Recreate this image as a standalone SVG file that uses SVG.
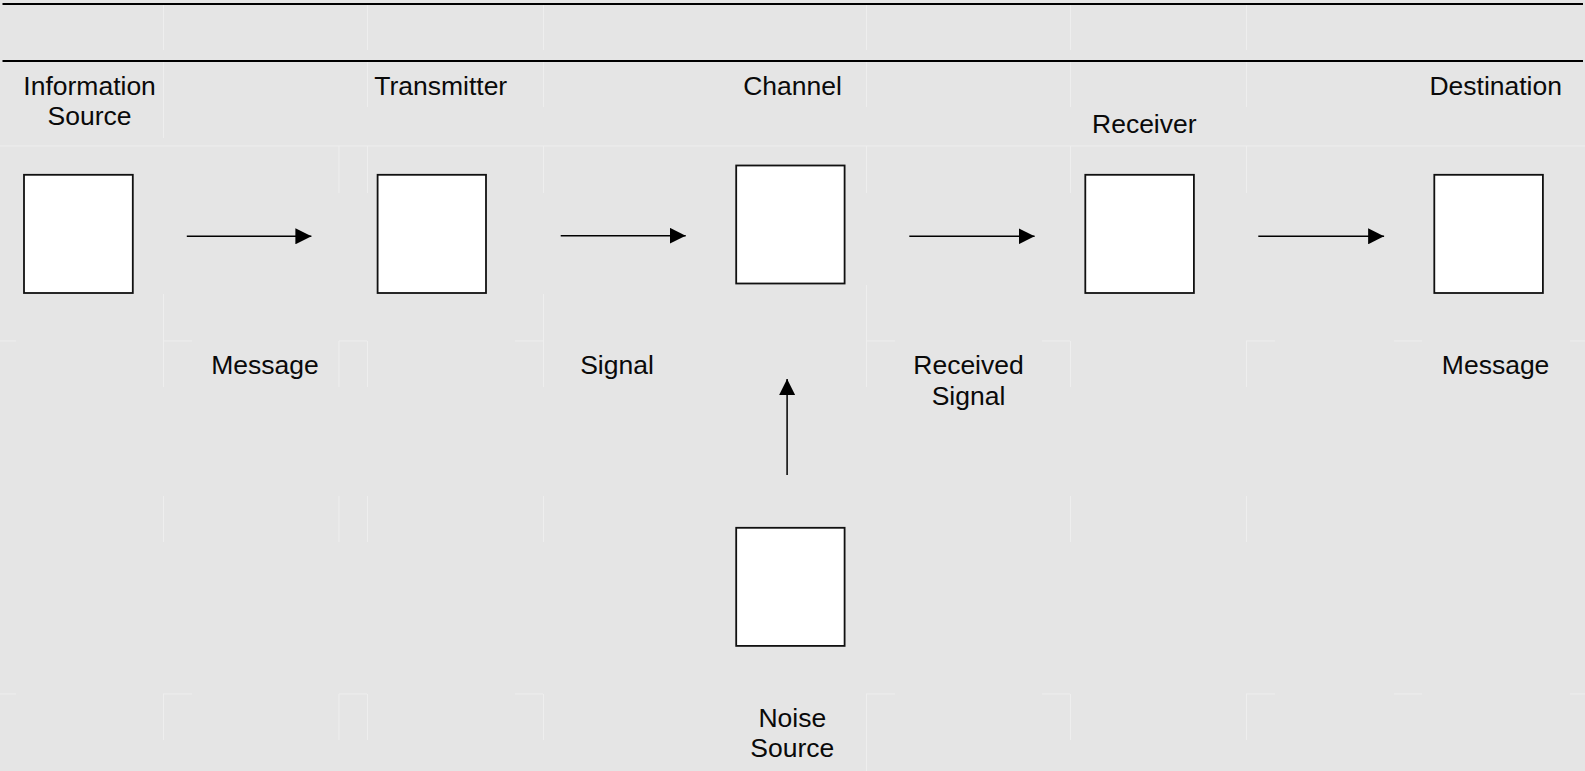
<svg xmlns="http://www.w3.org/2000/svg" width="1585" height="771" viewBox="0 0 1585 771">
  <defs>
    <marker id="head" markerUnits="userSpaceOnUse" markerWidth="16" markerHeight="16" viewBox="0 0 15 15" refX="15" refY="7.5" orient="auto">
      <path d="M0,0 L15,7.5 L0,15 Z" fill="#000"/>
    </marker>
    <style>
      .lbl { font-family: "Liberation Sans", Arial, sans-serif; font-size: 26.5px; fill: #0a0a0a; text-anchor: middle; }
      .box { fill: #fff; stroke: #111; stroke-width: 1.8; }
      .wire { stroke: #000; stroke-width: 1.5; fill: none; marker-end: url(#head); }
      .rule { stroke: #000; stroke-width: 2; }
      .grid { stroke: #eeeeee; stroke-width: 1; fill: none; }
    </style>
  </defs>

  <rect width="1585" height="771" fill="#e5e5e5"/>

  <!-- faint table cell borders -->
  <g id="grid" class="grid">
    <path d="M0,146 H1585"/>
    <path d="M163.5,5 V50 M163.5,62 V138 M163.5,294 V387 M163.5,496 V542 M163.5,694 V740"/>
    <path d="M367.5,5 V50 M367.5,62 V107 M367.5,146 V193 M367.5,341 V387 M367.5,496 V542 M367.5,694 V740"/>
    <path d="M339,146 V193 M339,341 V387 M339,496 V542 M339,694 V740"/>
    <path d="M543.5,5 V50 M543.5,62 V107 M543.5,146 V193 M543.5,294 V387 M543.5,496 V542 M543.5,694 V740"/>
    <path d="M866.5,5 V50 M866.5,62 V107 M866.5,146 V193 M866.5,285 V387 M866.5,694 V771"/>
    <path d="M1070.5,5 V50 M1070.5,62 V107 M1070.5,146 V193 M1070.5,341 V387 M1070.5,496 V542 M1070.5,694 V740"/>
    <path d="M1246.5,5 V50 M1246.5,62 V107 M1246.5,146 V193 M1246.5,341 V387 M1246.5,496 V542 M1246.5,694 V740"/>
    <path d="M0,341 H16 M163,341 H192 M339,341 H367 M515,341 H543 M866,341 H895 M1042,341 H1070 M1246,341 H1275 M1394,341 H1422 M1570,341 H1585"/>
    <path d="M0,694 H16 M163,694 H192 M339,694 H367 M515,694 H543 M866,694 H895 M1042,694 H1070 M1246,694 H1275 M1394,694 H1422 M1570,694 H1585"/>
  </g>

  <!-- header rules -->
  <g id="rules">
    <line class="rule" x1="2.5" y1="4" x2="1583" y2="4"/>
    <line class="rule" x1="2.5" y1="61" x2="1583" y2="61"/>
  </g>

  <!-- connectors -->
  <g id="connectors">
    <line class="wire" x1="186.8" y1="236.3" x2="311.4" y2="236.3"/>
    <line class="wire" x1="560.7" y1="235.7" x2="685.7" y2="235.7"/>
    <line class="wire" x1="909.3" y1="236.3" x2="1034.6" y2="236.3"/>
    <line class="wire" x1="1258.3" y1="236.3" x2="1384.1" y2="236.3"/>
    <line class="wire" x1="787.1" y1="475" x2="787.1" y2="379"/>
  </g>

  <g id="information-source">
    <rect class="box" x="24" y="174.8" width="108.8" height="118.2"/>
    <text class="lbl" x="89.6" y="94.7">Information</text>
    <text class="lbl" x="89.6" y="125.3">Source</text>
  </g>

  <g id="transmitter">
    <rect class="box" x="377.6" y="174.8" width="108.4" height="118.2"/>
    <text class="lbl" x="440.7" y="94.7">Transmitter</text>
  </g>

  <g id="channel">
    <rect class="box" x="736.2" y="165.5" width="108.4" height="118"/>
    <text class="lbl" x="792.5" y="94.7">Channel</text>
  </g>

  <g id="receiver">
    <rect class="box" x="1085.3" y="174.8" width="108.6" height="118.2"/>
    <text class="lbl" x="1144.3" y="133.3">Receiver</text>
  </g>

  <g id="destination">
    <rect class="box" x="1434.3" y="174.8" width="108.6" height="118.2"/>
    <text class="lbl" x="1495.7" y="94.7">Destination</text>
  </g>

  <g id="noise-source">
    <rect class="box" x="736.2" y="527.8" width="108.4" height="118.1"/>
    <text class="lbl" x="792.3" y="726.7">Noise</text>
    <text class="lbl" x="792.3" y="757.3">Source</text>
  </g>

  <!-- connector captions -->
  <g id="captions">
    <text class="lbl" x="265" y="374.3">Message</text>
    <text class="lbl" x="617" y="374.3">Signal</text>
    <text class="lbl" x="968.5" y="374.3">Received</text>
    <text class="lbl" x="968.5" y="405">Signal</text>
    <text class="lbl" x="1495.6" y="374.3">Message</text>
  </g>
</svg>
